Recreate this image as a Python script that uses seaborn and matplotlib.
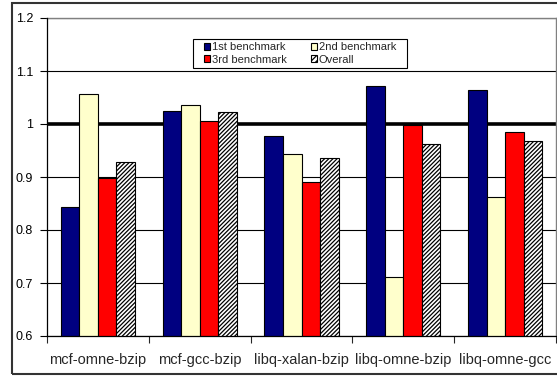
import matplotlib
matplotlib.use("Agg")
import matplotlib.pyplot as plt
from matplotlib.patches import Patch, Rectangle
import seaborn as sns
import pandas as pd

# Normalized results per workload mix
categories = ["mcf-omne-bzip", "mcf-gcc-bzip", "libq-xalan-bzip",
              "libq-omne-bzip", "libq-omne-gcc"]
series_names = ["1st benchmark", "2nd benchmark", "3rd benchmark", "Overall"]
first_bench = [0.844, 1.025, 0.977, 1.072, 1.064]
second_bench = [1.057, 1.035, 0.943, 0.712, 0.862]
third_bench = [0.899, 1.005, 0.891, 0.998, 0.985]
overall = [0.929, 1.022, 0.936, 0.962, 0.967]
y_ticks = [0.6, 0.7, 0.8, 0.9, 1.0, 1.1, 1.2]
y_tick_labels = ["0.6", "0.7", "0.8", "0.9", "1", "1.1", "1.2"]

colors = {"1st benchmark": "#000080", "2nd benchmark": "#FFFFCC",
          "3rd benchmark": "#FF0000", "Overall": "#FFFFFF"}

rows = []
for name, vals in zip(series_names, [first_bench, second_bench, third_bench, overall]):
    for cat, v in zip(categories, vals):
        rows.append({"mix": cat, "series": name, "value": v})
df = pd.DataFrame(rows)

sns.set_style("white")
plt.rcParams["font.family"] = ["Liberation Sans", "DejaVu Sans"]
plt.rcParams["hatch.linewidth"] = 0.9

W, H = 557, 377
fig = plt.figure(figsize=(W / 100, H / 100), dpi=100)
ax = fig.add_axes([47 / W, 1 - 336 / H, 509 / W, 318 / H])

sns.barplot(data=df, x="mix", y="value", hue="series", order=categories,
            hue_order=series_names, palette=colors, saturation=1,
            width=0.727, gap=0, edgecolor="black", linewidth=0.8,
            errorbar=None, legend=False, ax=ax, zorder=3)

# Overall bars: white with dense diagonal hatching
for bar in ax.containers[3]:
    bar.set_facecolor("white")
    bar.set_hatch("////////")
    bar.set_edgecolor("black")

ax.set_ylim(0.6, 1.2)
ax.set_xlim(-0.5, len(categories) - 0.5)

# Horizontal gridlines, with a thick reference line at 1
for yv in y_ticks:
    if yv == 1.0:
        ax.axhline(yv, color="black", lw=2.6, zorder=1)
    else:
        ax.axhline(yv, color="black", lw=0.8, zorder=1)

ax.set_yticks(y_ticks)
ax.set_yticklabels(y_tick_labels, fontsize=9)
ax.tick_params(axis="y", direction="out", length=5, width=0.8, pad=5,
               left=True, colors="black")

# Category boundaries as major ticks; labels at centers on minor ticks
ax.set_xticks([i - 0.5 for i in range(len(categories) + 1)])
ax.set_xticklabels([])
ax.set_xticks(range(len(categories)), minor=True)
ax.set_xticklabels(categories, minor=True, fontsize=10.5)
ax.tick_params(axis="x", which="major", direction="out", length=5, width=0.8,
               bottom=True)
ax.tick_params(axis="x", which="minor", length=0, pad=12)

ax.set_xlabel("")
ax.set_ylabel("")

for side in ["left", "bottom"]:
    ax.spines[side].set_color("black")
    ax.spines[side].set_linewidth(0.9)
    ax.spines[side].set_zorder(4)
for side in ["top", "right"]:
    ax.spines[side].set_visible(True)
    ax.spines[side].set_color("#808080")
    ax.spines[side].set_linewidth(1.0)

# Legend laid out as two columns: (1st, 3rd) and (2nd, Overall)
legend_order = ["1st benchmark", "3rd benchmark", "2nd benchmark", "Overall"]
handles = []
for name in legend_order:
    if name == "Overall":
        handles.append(Patch(facecolor="white", edgecolor="black",
                             hatch="//////", linewidth=0.8, label=name))
    else:
        handles.append(Patch(facecolor=colors[name], edgecolor="black",
                             linewidth=0.8, label=name))
leg = ax.legend(handles=handles, ncol=2, loc="center",
                bbox_to_anchor=((300 - 47) / 509, 1 - (53.5 - 18) / 318),
                fontsize=8, handlelength=0.55, handleheight=0.6,
                handletextpad=0.15, columnspacing=2.2, labelspacing=0.2,
                borderpad=0.0, frameon=False)
leg.set_zorder(6)

# Legend box with wider side padding than top/bottom
ax.add_patch(Rectangle((193 / W, 1 - 68 / H), 214 / W, 29 / H,
                       transform=fig.transFigure, facecolor="white",
                       edgecolor="black", linewidth=0.8, zorder=5,
                       clip_on=False))

# Outer chart border
fig.patches.append(Rectangle((12 / W, 1 - 374 / H), 1.0, 371 / H,
                             transform=fig.transFigure, fill=False,
                             edgecolor="#333333", linewidth=1.5))

fig.savefig("out.png", dpi=100, facecolor="white")
